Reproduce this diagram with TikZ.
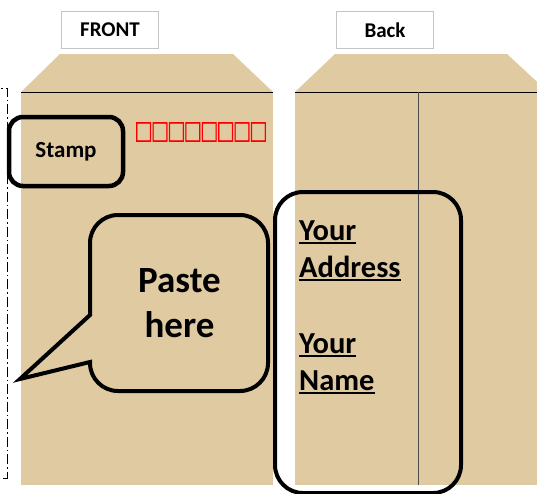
\documentclass[tikz,border=0pt]{standalone}
\usepackage{fontspec}
\setmainfont{Carlito}
\newfontfamily\boxfont[LetterSpace=-9.4,FakeBold=2.5]{Noto Sans CJK SC}
\usepackage{tikz}

\definecolor{kraft}{RGB}{224,202,162}
\definecolor{tabgray}{RGB}{196,196,196}
\newcommand\ulword[1]{\setbox0\hbox{#1}\rlap{\vrule width \wd0 height -2pt depth 4pt}#1}

\begin{document}
\begin{tikzpicture}[x=1pt,y=-1pt,
    tab/.style={draw=tabgray, line width=1.3pt, fill=white, minimum width=97pt, minimum height=37pt, inner sep=0, font=\bfseries\fontsize{21}{21}\selectfont},
    addr/.style={anchor=base west, inner sep=0, font=\bfseries\fontsize{30.5}{30.5}\selectfont}]
\useasboundingbox (0,0) rectangle (537,493);
\clip (0,0) rectangle (537,493);
    \fill[kraft] (60,54) -- (233,54) -- (273,92) -- (21,92) -- cycle ; % front flap
\fill[kraft] (21,92) rectangle (273,485) ; % front body
\draw[line width=1pt] (21,92) -- (273,92) ; % front fold
\fill[kraft] (335,54) -- (507,54) -- (548,92) -- (295,92) -- cycle ; % back flap
\fill[kraft] (295,92) rectangle (548,485) ; % back body
\draw[line width=1pt] (295,92) -- (548,92) ; % back fold
\draw[line width=0.9pt, black!70] (418,92) -- (418,485) ; % back seam
\draw[line width=0.9pt, dash pattern=on 10pt off 3pt on 1.5pt off 3pt] (-12,88) -- (7,88) -- (7,478) -- (-12,478) ; % cut line
\node[tab] (front) at (110,30) {FRONT} ;
\node[tab] (back) at (385,30) {Back} ;
\node[draw, line width=4.5pt, rounded corners=14pt, minimum width=114pt, minimum height=69pt] (stamp) at (66,151.5) {\bfseries\fontsize{23}{23}\selectfont Stamp} ;
\node[text=red, inner sep=0] (zip) at (201,132) {\scalebox{1}[1.31]{\boxfont\fontsize{18.1}{18.1}\selectfont □□□□□□□□}} ;
\draw[line width=4pt] (90,315) [rounded corners=28pt] -- (90,215) -- (268,215) -- (268,391) -- (90,391) [sharp corners] -- (90,362) -- (20,379) -- cycle ; % bubble
\node[align=center, inner sep=0, font=\bfseries\fontsize{37}{45}\selectfont] (paste) at (179.5,303) {Paste\\here} ;
\draw[line width=4pt, rounded corners=28pt] (275,192) rectangle (461,493) ; % address frame
\node[addr] (your1) at (299,240) {\ulword{Your}} ;
\node[addr] (address) at (299,277) {\ulword{Address}} ;
\node[addr] (your2) at (299,353) {\ulword{Your}} ;
\node[addr] (name) at (299,390) {\ulword{Name}} ;
    \end{tikzpicture}
\end{document}
